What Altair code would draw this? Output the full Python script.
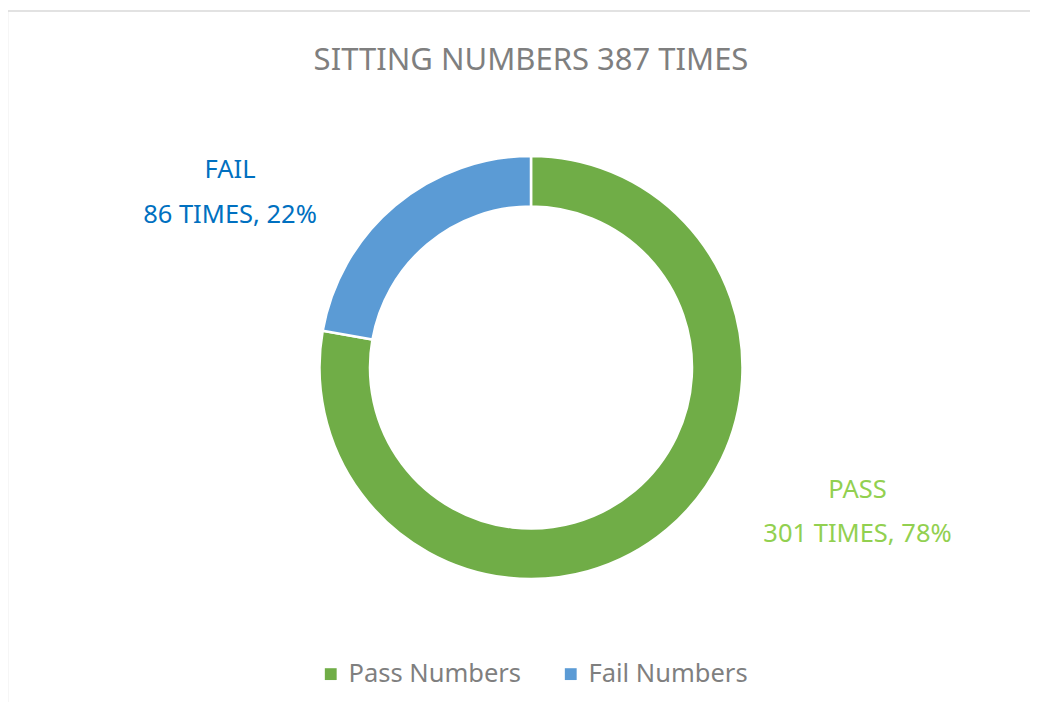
import altair as alt
import pandas as pd

categories = ["Pass Numbers", "Fail Numbers"]
short_names = ["PASS", "FAIL"]
counts = [301, 86]
slice_colors = ["#70AD47", "#5B9BD5"]
label_colors = ["#92D050", "#0070C0"]
title_text = "SITTING NUMBERS 387 TIMES"

FONT = "Noto Sans"
total = sum(counts)
df = pd.DataFrame({
    "category": categories,
    "name": short_names,
    "count": counts,
    "order": list(range(len(categories))),
})
df["detail"] = [f"{c} TIMES, {round(100 * c / total)}%" for c in counts]

base = alt.Chart(df)

donut = base.mark_arc(outerRadius=211.5, innerRadius=161, stroke="white", strokeWidth=2.5).encode(
    theta=alt.Theta("count:Q", stack=True),
    order=alt.Order("order:Q"),
    color=alt.Color(
        "category:N",
        scale=alt.Scale(domain=categories, range=slice_colors),
        legend=alt.Legend(
            title=None, orient="none", legendX=310, legendY=573,
            direction="horizontal", symbolType="square", symbolSize=140,
            symbolStrokeWidth=0, labelFontSize=25.5, labelFont=FONT,
            labelColor="#7F7F7F", labelOffset=5, labelLimit=400,
            columnPadding=36, padding=0,
        ),
    ),
    x=alt.value(523),
    y=alt.value(279.5),
)


def label_layer(name, field, color, xpos, ypos):
    return base.transform_filter(alt.datum.name == name).mark_text(
        font=FONT, fontSize=25.5, color=color, align="center", baseline="alphabetic"
    ).encode(text=f"{field}:N", x=alt.value(xpos), y=alt.value(ypos))


labels = [
    label_layer("FAIL", "name", label_colors[1], 222, 90),
    label_layer("FAIL", "detail", label_colors[1], 222, 135),
    label_layer("PASS", "name", label_colors[0], 849.5, 410),
    label_layer("PASS", "detail", label_colors[0], 849.5, 454),
]

title_df = pd.DataFrame({"title": [title_text]})
title_mark = alt.Chart(title_df).mark_text(
    font=FONT, fontSize=31, color="#7F7F7F", align="center", baseline="alphabetic"
).encode(text="title:N", x=alt.value(523), y=alt.value(-18))

frame_df = pd.DataFrame({"k": [0]})
top_border = alt.Chart(frame_df).mark_rule(color="#D9D9D9", strokeWidth=1.5).encode(
    x=alt.value(-0.5), x2=alt.value(1022), y=alt.value(-77)
)
left_border = alt.Chart(frame_df).mark_rule(color="#D9D9D9", strokeWidth=1.5).encode(
    x=alt.value(-0.5), y=alt.value(-77), y2=alt.value(614)
)

chart = alt.layer(top_border, left_border, title_mark, donut, *labels).properties(
    width=1022,
    height=614,
    padding={"left": 0, "top": 80, "right": 0, "bottom": 0},
    autosize=alt.AutoSizeParams(type="none"),
).configure_view(stroke=None)

chart.save("out.html", embed_options={"renderer": "svg", "actions": False})
